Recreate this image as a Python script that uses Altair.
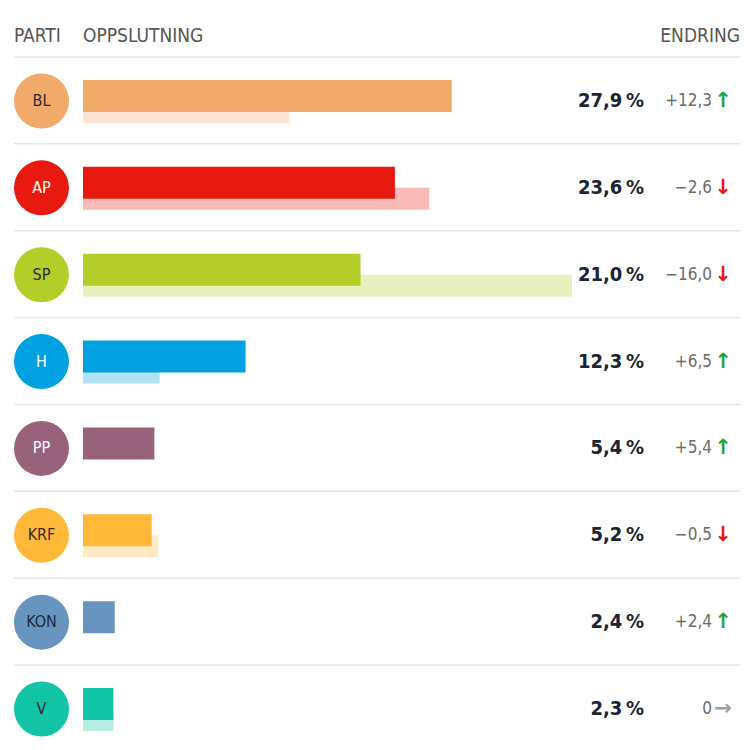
import altair as alt
import pandas as pd

# ---- data ----
parties = ["BL", "AP", "SP", "H", "PP", "KRF", "KON", "V"]
current = [27.9, 23.6, 21.0, 12.3, 5.4, 5.2, 2.4, 2.3]
previous = [15.6, 26.2, 37.0, 5.8, 0.0, 5.7, 0.0, 2.3]
change = [12.3, -2.6, -16.0, 6.5, 5.4, -0.5, 2.4, 0.0]
colors = ["#f2aa6b", "#e8190e", "#b5cd28", "#00a0e1", "#98627b", "#ffb838", "#6795bf", "#12c4a6"]
label_colors = ["#2a2a2a", "#ffffff", "#2a2a2a", "#ffffff", "#ffffff", "#3a2a10", "#1e2a3a", "#1e2a2a"]
headers = ["PARTI", "OPPSLUTNING", "ENDRING"]


def fmt_pct(v):
    return f"{v:.1f}".replace(".", ",") + "\u2009%"


def fmt_change(v):
    if v == 0:
        return "0"
    s = f"{abs(v):.1f}".replace(".", ",")
    return ("+" if v > 0 else "\u2212") + s


df = pd.DataFrame({
    "party": parties,
    "current": current,
    "previous": previous,
    "change": change,
    "color": colors,
    "label_color": label_colors,
})
df["pct_label"] = [fmt_pct(v) for v in current]
df["change_label"] = [fmt_change(v) for v in change]
df["arrow"] = ["\u2191" if v > 0 else ("\u2193" if v < 0 else "\u2192") for v in change]
df["arrow_color"] = ["#1aa33a" if v > 0 else ("#e8190e" if v < 0 else "#a0a0a0") for v in change]

FONT = "DejaVu Sans Condensed"

y_scale = alt.Scale(type="point", domain=parties, range=[93, 701], padding=0)
x_scale = alt.Scale(domain=[0, 37], range=[75, 564])
Y = alt.Y("party:N", scale=y_scale, axis=None)

base = alt.Chart(df)

rules = base.mark_rule(color="#e6e6e6", strokeWidth=1.5, yOffset=-44).encode(
    y=Y, x=alt.value(6), x2=alt.value(732)
)

prev_bars = base.mark_bar(size=22, yOffset=11, opacity=0.3).encode(
    y=Y,
    x=alt.X("previous:Q", scale=x_scale, axis=None),
    color=alt.Color("color:N", scale=None),
)

cur_bars = base.mark_bar(size=32, yOffset=-5, opacity=1).encode(
    y=Y,
    x=alt.X("current:Q", scale=x_scale, axis=None),
    color=alt.Color("color:N", scale=None),
)

circles = base.mark_circle(size=3025, opacity=1).encode(
    y=Y, x=alt.value(33.5), color=alt.Color("color:N", scale=None)
)

circle_labels = base.mark_text(font=FONT, fontSize=16, fontWeight=500, baseline="middle").encode(
    y=Y, x=alt.value(33.5), text="party:N", color=alt.Color("label_color:N", scale=None)
)

pct = base.mark_text(font=FONT, fontSize=20, fontWeight="bold", align="right",
                     baseline="middle", color="#1a2435").encode(
    y=Y, x=alt.value(636), text="pct_label:N"
)

chg = base.mark_text(font=FONT, fontSize=17, align="right", baseline="middle",
                     color="#6a6a6a").encode(
    y=Y, x=alt.value(704), text="change_label:N"
)

arrows = base.mark_text(font="DejaVu Sans", fontSize=21, fontWeight="bold", align="center",
                        baseline="middle").encode(
    y=Y, x=alt.value(715), text="arrow:N", color=alt.Color("arrow_color:N", scale=None)
)

hdr_df = pd.DataFrame({"t": headers})


def header(label, xpos, align):
    return alt.Chart(hdr_df).transform_filter(alt.datum.t == label).mark_text(
        font=FONT, fontSize=19, align=align, baseline="middle", color="#555555"
    ).encode(x=alt.value(xpos), y=alt.value(28), text="t:N")


chart = alt.layer(
    rules, prev_bars, cur_bars, circles, circle_labels, pct, chg, arrows,
    header("PARTI", 6, "left"), header("OPPSLUTNING", 75, "left"), header("ENDRING", 732, "right"),
).properties(
    width=734, height=734, padding=0, autosize="none"
).configure_view(stroke=None)

chart.save("out.html", embed_options={"renderer": "svg", "actions": False})
